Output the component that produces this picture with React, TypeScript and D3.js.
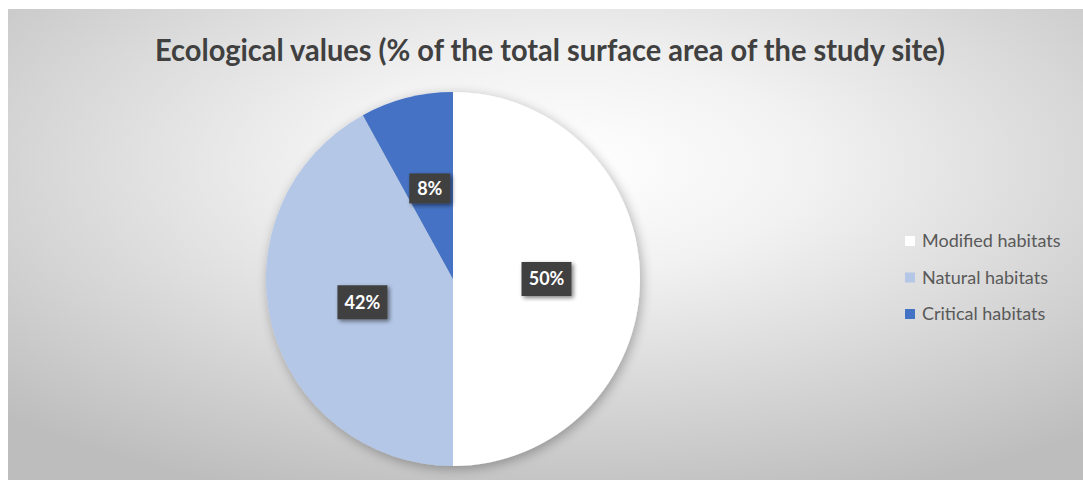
import React from "react";
import * as d3 from "d3";

const categories = ["Modified habitats", "Natural habitats", "Critical habitats"];
const values = [50, 42, 8];
const colors = ["#ffffff", "#b4c7e7", "#4472c4"];
const title = "Ecological values (% of the total surface area of the study site)";

const W = 1083;
const H = 480;
const cx = 453;
const cy = 279;
const R = 187;

export default function App() {
  const pie = d3.pie<number>().sort(null).value((d) => d)(values);
  const arc = d3.arc<d3.PieArcDatum<number>>().innerRadius(0).outerRadius(R);
  const total = d3.sum(values);
  const font = "Lato, 'Open Sans', sans-serif";
  const legendY = d3.scalePoint<string>().domain(categories).range([241, 314]);
  return (
    <svg width={W} height={H} style={{ position: "absolute", left: 0, top: 0 }}>
      <defs>
        <radialGradient id="bg" cx="0.52" cy="0.33" r="0.75" gradientUnits="objectBoundingBox">
          <stop offset="0" stopColor="#ffffff" />
          <stop offset="0.3" stopColor="#f2f2f2" />
          <stop offset="1" stopColor="#bdbdbd" />
        </radialGradient>
        <filter id="shadow" x="-20%" y="-20%" width="140%" height="140%">
          <feGaussianBlur in="SourceAlpha" stdDeviation="6" />
          <feOffset dx="2" dy="3" result="b" />
          <feComponentTransfer>
            <feFuncA type="linear" slope="0.3" />
          </feComponentTransfer>
          <feMerge>
            <feMergeNode />
            <feMergeNode in="SourceGraphic" />
          </feMerge>
        </filter>
        <filter id="lblshadow" x="-30%" y="-30%" width="160%" height="160%">
          <feGaussianBlur in="SourceAlpha" stdDeviation="2" />
          <feOffset dx="2" dy="2" />
          <feComponentTransfer>
            <feFuncA type="linear" slope="0.5" />
          </feComponentTransfer>
          <feMerge>
            <feMergeNode />
            <feMergeNode in="SourceGraphic" />
          </feMerge>
        </filter>
      </defs>
      <rect x={0} y={0} width={W} height={H} fill="#ffffff" />
      <rect x={8} y={9} width={W - 8} height={H - 9} fill="url(#bg)" />
      <text
        x={550}
        y={61}
        textAnchor="middle"
        fontFamily={font}
        fontWeight="bold"
        fontSize={31}
        fill="#404040"
        textLength={790}
        lengthAdjust="spacingAndGlyphs"
      >
        {title}
      </text>
      <g transform={`translate(${cx},${cy})`}>
        <g filter="url(#shadow)">
          {pie.map((p, i) => (
            <path key={i} d={arc(p) || ""} fill={colors[i]} />
          ))}
        </g>
        {pie.map((p, i) => {
          const [x, y] = arc.centroid(p);
          const label = `${Math.round((p.data / total) * 100)}%`;
          const bw = label.length > 2 ? 50 : 41;
          const bh = label.length > 2 ? 34 : 30;
          return (
            <g key={i} transform={`translate(${x},${y})`}>
              <rect x={-bw / 2} y={-bh / 2} width={bw} height={bh} fill="#404040" filter="url(#lblshadow)" />
              <text
                textAnchor="middle"
                dy="0.36em"
                fontFamily={font}
                fontWeight="bold"
                fontSize={18}
                fill="#ffffff"
              >
                {label}
              </text>
            </g>
          );
        })}
      </g>
      <g>
        {categories.map((c, i) => (
          <g key={c} transform={`translate(905,${legendY(c)})`}>
            <rect x={0} y={-5} width={10} height={10} fill={colors[i]} />
            <text x={17} dy="0.35em" fontFamily={font} fontSize={18} fill="#595959">
              {c}
            </text>
          </g>
        ))}
      </g>
    </svg>
  );
}
